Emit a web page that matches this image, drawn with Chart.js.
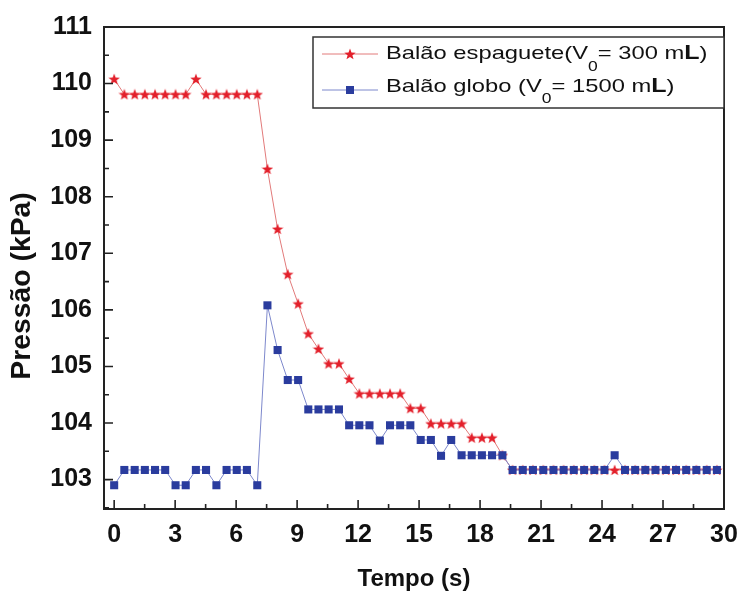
<!DOCTYPE html>
<html>
<head>
<meta charset="utf-8">
<script src="https://cdn.jsdelivr.net/npm/chart.js@4.4.1/dist/chart.umd.min.js"></script>
<style>
  html, body { margin: 0; padding: 0; background: #fff; }
</style>
</head>
<body>
<canvas id="chart" width="742" height="592"></canvas>
<script>
// DATA
const tempo = [0, 0.5, 1.01, 1.51, 2.01, 2.51, 3.02, 3.52, 4.02, 4.52, 5.03, 5.53, 6.03, 6.53, 7.04,
  7.54, 8.04, 8.54, 9.05, 9.55, 10.05, 10.55, 11.06, 11.56, 12.06, 12.56, 13.07, 13.57, 14.07, 14.57,
  15.08, 15.58, 16.08, 16.58, 17.09, 17.59, 18.09, 18.59, 19.1, 19.6, 20.1, 20.6, 21.11, 21.61, 22.11,
  22.61, 23.12, 23.62, 24.12, 24.62, 25.13, 25.63, 26.13, 26.63, 27.14, 27.64, 28.14, 28.64, 29.15, 29.65];

const espaguete = [110.08, 109.81, 109.81, 109.81, 109.81, 109.81, 109.81, 109.81, 110.08, 109.81,
  109.81, 109.81, 109.81, 109.81, 109.81, 108.49, 107.43, 106.63, 106.11, 105.58,
  105.31, 105.05, 105.05, 104.78, 104.52, 104.52, 104.52, 104.52, 104.52, 104.26,
  104.26, 103.99, 103.99, 103.99, 103.99, 103.74, 103.74, 103.74, 103.43, 103.17,
  103.17, 103.17, 103.17, 103.17, 103.17, 103.17, 103.17, 103.17, 103.17, 103.17,
  103.17, 103.17, 103.17, 103.17, 103.17, 103.17, 103.17, 103.17, 103.17, 103.17];

const globo = [102.9, 103.17, 103.17, 103.17, 103.17, 103.17, 102.9, 102.9, 103.17, 103.17,
  102.9, 103.17, 103.17, 103.17, 102.9, 106.08, 105.29, 104.76, 104.76, 104.24,
  104.24, 104.24, 104.24, 103.96, 103.96, 103.96, 103.69, 103.96, 103.96, 103.96,
  103.70, 103.70, 103.42, 103.70, 103.43, 103.43, 103.43, 103.43, 103.43, 103.17,
  103.17, 103.17, 103.17, 103.17, 103.17, 103.17, 103.17, 103.17, 103.17, 103.43,
  103.17, 103.17, 103.17, 103.17, 103.17, 103.17, 103.17, 103.17, 103.17, 103.17];

const xTicks = [0, 3, 6, 9, 12, 15, 18, 21, 24, 27, 30];
const xMinor = [1.5, 4.5, 7.5, 10.5, 13.5, 16.5, 19.5, 22.5, 25.5, 28.5];
const yTicks = [103, 104, 105, 106, 107, 108, 109, 110, 111];
const yMinor = [102.5, 103.5, 104.5, 105.5, 106.5, 107.5, 108.5, 109.5, 110.5];

// STYLE
const RED = '#e3202b', RED_LINE = '#e27a7a';
const BLUE = '#2a3c9e', BLUE_LINE = '#7d88cc';
const FONT = '"Liberation Sans", Arial, sans-serif';

// filled 5-point star used as the point style
function makeStar(size, color) {
  const c = document.createElement('canvas');
  c.width = size; c.height = size;
  const g = c.getContext('2d');
  const cx = size / 2, cy = size / 2 + 0.5, R = size / 2, r = R * 0.42;
  g.beginPath();
  for (let i = 0; i < 10; i++) {
    const a = -Math.PI / 2 + i * Math.PI / 5;
    const rad = i % 2 ? r : R;
    g.lineTo(cx + rad * Math.cos(a), cy + rad * Math.sin(a));
  }
  g.closePath();
  g.fillStyle = color;
  g.fill();
  return c;
}
const star = makeStar(12, RED);

// text in pieces (subscript, bold L), stretched a bit sideways like the original
function drawParts(ctx, x, y, parts) {
  ctx.save();
  ctx.translate(x, y);
  ctx.scale(1.25, 1);
  let cx = 0;
  parts.forEach(p => {
    ctx.font = p.f;
    ctx.fillText(p.t, cx, p.dy || 0);
    cx += ctx.measureText(p.t).width;
  });
  ctx.restore();
}

// FRAME, INWARD TICKS, Y TITLE, LEGEND
const framePlugin = {
  id: 'frame',
  afterDraw(chart) {
    const { ctx, chartArea: a, scales: { x, y } } = chart;
    ctx.save();
    ctx.strokeStyle = '#222';
    ctx.lineWidth = 2;
    ctx.strokeRect(a.left, a.top, a.right - a.left, a.bottom - a.top);
    ctx.lineWidth = 1.6;
    ctx.beginPath();
    xTicks.forEach(v => { const px = x.getPixelForValue(v); ctx.moveTo(px, a.bottom); ctx.lineTo(px, a.bottom - 9); });
    xMinor.forEach(v => { const px = x.getPixelForValue(v); ctx.moveTo(px, a.bottom); ctx.lineTo(px, a.bottom - 5); });
    yTicks.forEach(v => { const py = y.getPixelForValue(v); ctx.moveTo(a.left, py); ctx.lineTo(a.left + 9, py); });
    yMinor.forEach(v => { const py = y.getPixelForValue(v); ctx.moveTo(a.left, py); ctx.lineTo(a.left + 5, py); });
    ctx.stroke();

    // y axis title
    ctx.save();
    ctx.translate(23, 286);
    ctx.rotate(-Math.PI / 2);
    ctx.scale(1.05, 1);
    ctx.fillStyle = '#111';
    ctx.font = 'bold 27px ' + FONT;
    ctx.textAlign = 'center';
    ctx.textBaseline = 'middle';
    ctx.fillText('Pressão (kPa)', 0, 0);
    ctx.restore();

    // legend box
    const lx = 313, ly = 37, lw = a.right - 313, lh = 71;
    ctx.fillStyle = '#fff';
    ctx.fillRect(lx, ly, lw, lh);
    ctx.lineWidth = 1.5;
    ctx.strokeStyle = '#333';
    ctx.strokeRect(lx, ly, lw, lh);

    const rows = [
      { y: 59, my: 54, line: RED_LINE, parts: [
        { t: 'Balão espaguete(V', f: '19px ' + FONT },
        { t: '0', f: '14px ' + FONT, dy: 11.5 },
        { t: '= 300 m', f: '19px ' + FONT },
        { t: 'L', f: 'bold 20px ' + FONT },
        { t: ')', f: '19px ' + FONT }] },
      { y: 91.5, my: 90, line: BLUE_LINE, parts: [
        { t: 'Balão globo (V', f: '19px ' + FONT },
        { t: '0', f: '14px ' + FONT, dy: 11.5 },
        { t: '= 1500 m', f: '19px ' + FONT },
        { t: 'L', f: 'bold 20px ' + FONT },
        { t: ')', f: '19px ' + FONT }] }
    ];
    rows.forEach((r, i) => {
      ctx.strokeStyle = r.line;
      ctx.lineWidth = 1;
      ctx.beginPath(); ctx.moveTo(322, r.my); ctx.lineTo(378, r.my); ctx.stroke();
      if (i === 0) ctx.drawImage(star, 344, r.my - 6);
      else { ctx.fillStyle = BLUE; ctx.fillRect(346, r.my - 4, 8, 8); }
      ctx.fillStyle = '#111';
      ctx.textBaseline = 'alphabetic';
      ctx.textAlign = 'left';
      drawParts(ctx, 386, r.y, r.parts);
    });
    ctx.restore();
  }
};

new Chart(document.getElementById('chart'), {
  type: 'line',
  data: {
    datasets: [
      { label: 'Balão espaguete', data: tempo.map((t, i) => ({ x: t, y: espaguete[i] })),
        borderColor: RED_LINE, borderWidth: 1, pointStyle: star, pointRadius: 6, order: 1 },
      { label: 'Balão globo', data: tempo.map((t, i) => ({ x: t, y: globo[i] })),
        borderColor: BLUE_LINE, borderWidth: 1, pointStyle: 'rect', pointRadius: 5.7,
        pointBackgroundColor: BLUE, pointBorderColor: BLUE, pointBorderWidth: 0, order: 0 }
    ]
  },
  options: {
    responsive: false,
    animation: false,
    devicePixelRatio: 1,
    layout: { padding: { left: 0, right: 18, top: 27, bottom: 0 } },
    plugins: { legend: { display: false }, tooltip: { enabled: false } },
    scales: {
      x: {
        type: 'linear', min: -0.5, max: 30,
        afterBuildTicks: s => { s.ticks = xTicks.map(v => ({ value: v })); },
        afterFit: s => { s.height = 83; s.paddingLeft = 0; s.paddingRight = 0; },
        grid: { display: false }, border: { display: false },
        ticks: { color: '#111', font: { family: FONT, size: 25, weight: 'bold' }, padding: 3, maxRotation: 0, autoSkip: false },
        title: { display: true, text: 'Tempo (s)', color: '#111', font: { family: FONT, size: 24, weight: 'bold', lineHeight: 1 }, padding: { top: 0, bottom: 1 } }
      },
      y: {
        type: 'linear', min: 102.48, max: 111,
        afterBuildTicks: s => { s.ticks = yTicks.map(v => ({ value: v })); },
        afterFit: s => { s.width = 104; s.paddingTop = 0; s.paddingBottom = 0; },
        grid: { display: false }, border: { display: false },
        ticks: { color: '#111', font: { family: FONT, size: 25, weight: 'bold' }, padding: 4, autoSkip: false },
        title: { display: false }
      }
    }
  },
  plugins: [framePlugin]
});
</script>
</body>
</html>
